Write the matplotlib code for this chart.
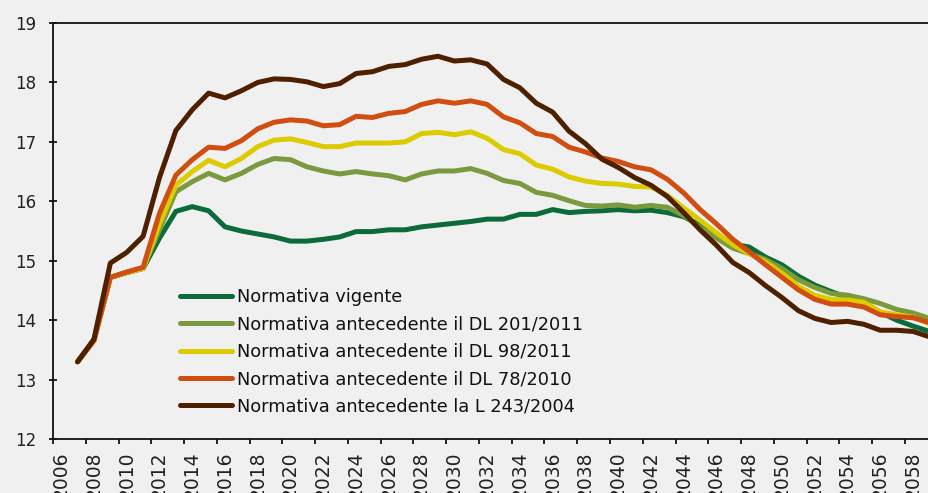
import matplotlib
matplotlib.use("Agg")
import matplotlib.pyplot as plt
import numpy as np

# anni 2007-2059
years = list(range(2007, 2060))

vigente = [13.30, 13.66, 14.72, 14.80, 14.87, 15.38, 15.83, 15.91, 15.84, 15.57,
           15.50, 15.45, 15.40, 15.33, 15.33, 15.36, 15.40, 15.49, 15.49, 15.52,
           15.52, 15.57, 15.60, 15.63, 15.66, 15.70, 15.70, 15.78, 15.78, 15.86,
           15.81, 15.83, 15.84, 15.86, 15.84, 15.85, 15.81, 15.74, 15.60, 15.42,
           15.28, 15.23, 15.06, 14.93, 14.74, 14.59, 14.48, 14.38, 14.30, 14.13,
           14.00, 13.90, 13.81]
dl_201_2011 = [13.30, 13.66, 14.72, 14.80, 14.87, 15.52, 16.16, 16.33, 16.47, 16.36,
               16.47, 16.62, 16.72, 16.70, 16.58, 16.51, 16.46, 16.50, 16.46, 16.43,
               16.36, 16.46, 16.51, 16.51, 16.55, 16.47, 16.35, 16.30, 16.15, 16.10,
               16.01, 15.93, 15.92, 15.94, 15.90, 15.93, 15.90, 15.76, 15.56, 15.38,
               15.21, 15.12, 15.02, 14.87, 14.68, 14.55, 14.45, 14.42, 14.36, 14.28,
               14.18, 14.12, 14.03]
dl_98_2011 = [13.30, 13.66, 14.72, 14.80, 14.87, 15.62, 16.27, 16.50, 16.69, 16.58,
              16.72, 16.92, 17.03, 17.05, 16.99, 16.92, 16.92, 16.98, 16.98, 16.98,
              17.00, 17.14, 17.16, 17.12, 17.17, 17.06, 16.87, 16.80, 16.61, 16.54,
              16.41, 16.34, 16.30, 16.29, 16.25, 16.24, 16.10, 15.89, 15.68, 15.47,
              15.27, 15.12, 14.98, 14.79, 14.57, 14.42, 14.35, 14.34, 14.30, 14.14,
              14.09, 14.05, 13.94]
dl_78_2010 = [13.30, 13.66, 14.72, 14.81, 14.89, 15.80, 16.44, 16.70, 16.91, 16.89,
              17.02, 17.22, 17.33, 17.37, 17.35, 17.27, 17.29, 17.43, 17.41, 17.48,
              17.51, 17.63, 17.69, 17.65, 17.69, 17.63, 17.42, 17.32, 17.14, 17.09,
              16.91, 16.83, 16.73, 16.67, 16.58, 16.53, 16.37, 16.14, 15.86, 15.62,
              15.36, 15.15, 14.93, 14.72, 14.51, 14.35, 14.27, 14.27, 14.22, 14.09,
              14.06, 14.04, 13.96]
l_243_2004 = [13.30, 13.68, 14.96, 15.14, 15.41, 16.40, 17.19, 17.54, 17.82, 17.74,
              17.86, 18.00, 18.06, 18.05, 18.01, 17.93, 17.98, 18.15, 18.18, 18.27,
              18.30, 18.39, 18.44, 18.36, 18.38, 18.31, 18.05, 17.91, 17.65, 17.50,
              17.18, 16.97, 16.71, 16.57, 16.40, 16.27, 16.08, 15.81, 15.52, 15.26,
              14.97, 14.80, 14.58, 14.38, 14.16, 14.03, 13.96, 13.98, 13.93, 13.83,
              13.83, 13.81, 13.72]

labels = ["Normativa vigente",
          "Normativa antecedente il DL 201/2011",
          "Normativa antecedente il DL 98/2011",
          "Normativa antecedente il DL 78/2010",
          "Normativa antecedente la L 243/2004"]
colors = ["#0b6b3a", "#7b9a40", "#dccb00", "#cf4e10", "#4f2000"]
series = [vigente, dl_201_2011, dl_98_2011, dl_78_2010, l_243_2004]

tick_years = list(range(2006, 2060, 2))

bg = "#f0f0f0"
plt.rcParams['font.family'] = ['DejaVu Sans']

fig = plt.figure(figsize=(9.29, 4.93), dpi=100, facecolor=bg)
# l'asse continua oltre il bordo destro (immagine ritagliata)
ax = fig.add_axes([53 / 929, 1 - 439 / 493, 901 / 929, 416 / 493], facecolor=bg)

for vals, col, lab in zip(series, colors, labels):
    ax.plot(years, vals, color=col, lw=3.6, label=lab,
            solid_joinstyle='round', solid_capstyle='round')

ax.set_xlim(2005.5, 2060.5)
ax.set_ylim(12, 19)

# tacche ai confini delle categorie, etichette al centro
ax.set_xticks([y - 0.5 for y in tick_years])
ax.set_xticklabels([])
ax.set_xticks(tick_years, minor=True)
ax.set_xticklabels([str(y) for y in tick_years], minor=True, rotation=90,
                   fontsize=13.5, color="#222222")
ax.tick_params(axis='x', which='major', direction='out', length=3.4, width=1.2)
ax.tick_params(axis='x', which='minor', length=0, pad=9)

ax.set_yticks(np.arange(12, 20, 1))
ax.set_yticklabels([str(v) for v in range(12, 20)], fontsize=12, color="#222222")
ax.tick_params(axis='y', direction='inout', length=5.8, width=1.2, pad=9)

for s in ax.spines.values():
    s.set_linewidth(1.3)
    s.set_color("#111111")

leg = ax.legend(loc='upper left', bbox_to_anchor=(0.141, 0.362), frameon=False,
                fontsize=12.8, handlelength=2.95, handletextpad=0.25,
                labelspacing=0.52, borderpad=0, borderaxespad=0)
for t in leg.get_texts():
    t.set_color("#111111")

fig.savefig("out.png", dpi=100, facecolor=bg)
